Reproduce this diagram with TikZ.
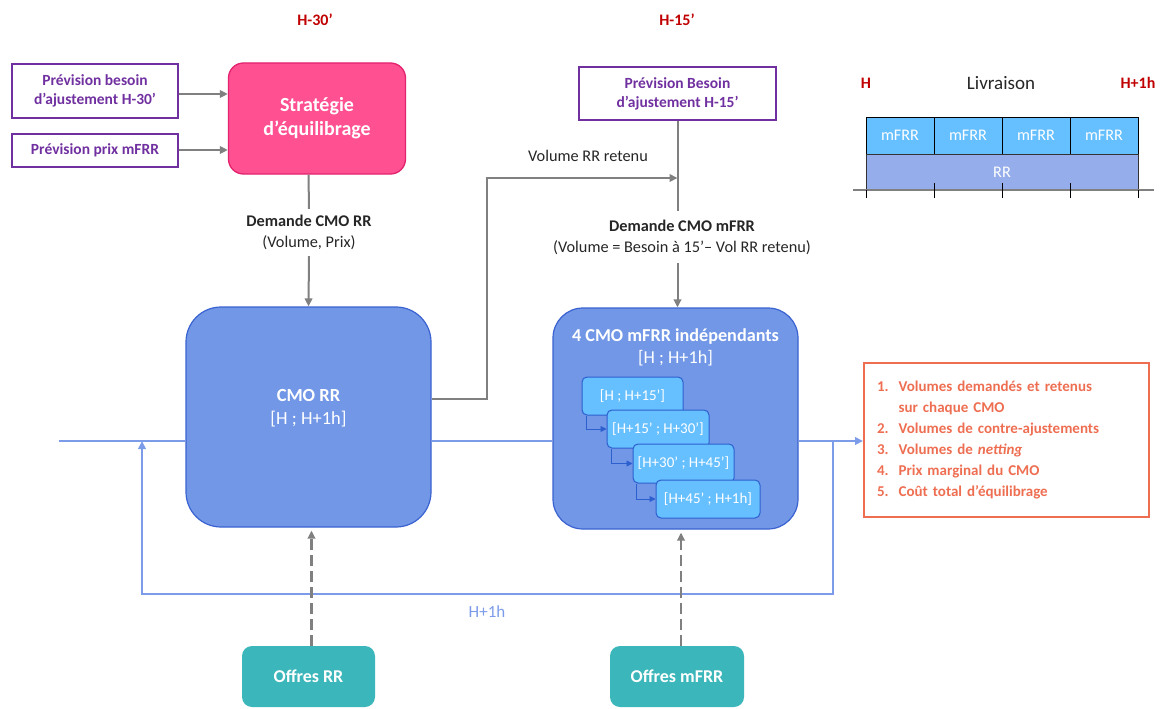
\documentclass[tikz,border=0pt]{standalone}
\usepackage{fontspec}
\setmainfont{Carlito}
\usetikzlibrary{arrows.meta,calc}
\definecolor{hred}{HTML}{C00000}
\definecolor{purp}{HTML}{7030A0}
\definecolor{pinkf}{HTML}{FF5091}
\definecolor{pinkd}{HTML}{E3236E}
\definecolor{arrg}{HTML}{808080}
\definecolor{boxb}{HTML}{7197E6}
\definecolor{boxd}{HTML}{3A62D0}
\definecolor{subf}{HTML}{66BFFF}
\definecolor{subd}{HTML}{2D5FCF}
\definecolor{flowc}{HTML}{7C9CEA}
\definecolor{tealc}{HTML}{3BB6BA}
\definecolor{coral}{HTML}{EE6E52}
\definecolor{rrf}{HTML}{95AEEB}
\tikzset{
  prev/.style={draw=purp, line width=2pt, text=purp, font=\fontsize{15.5}{19}\selectfont\bfseries, align=center, inner sep=0pt},
  gline/.style={draw=arrg, line width=2pt},
  garrow/.style={draw=arrg, line width=2pt, -{Triangle[length=8pt,width=7.5pt]}},
  lbl/.style={font=\fontsize{16.3}{21}\selectfont, align=center, text=black!85},
  cmo/.style={fill=boxb, draw=boxd, line width=1.2pt},
  subbox/.style={fill=subf, draw=subd, line width=1pt, rounded corners=5pt, text=white, font=\fontsize{15}{17}\selectfont, inner sep=0pt},
  subarrow/.style={draw=subd, line width=0.9pt, -{Triangle[length=6pt,width=6pt]}},
  offer/.style={fill=tealc, rounded corners=10pt, text=white, font=\fontsize{18}{21}\selectfont\bfseries},
  hlabel/.style={text=hred, font=\fontsize{16}{19}\selectfont\bfseries},
  flowline/.style={draw=flowc, line width=2pt},
  cellm/.style={fill=subf, draw=black, line width=0.8pt, minimum width=68, minimum height=37, text=white, font=\fontsize{16.2}{18}\selectfont, inner sep=0pt},
}
\begin{document}
\begin{tikzpicture}[x=1pt,y=-1pt]
\path[use as bounding box] (0,0) rectangle (1163,709);

% time labels
\node[hlabel] (h30) at (315,20) {H-30’};
\node[hlabel] (h15) at (677,20) {H-15’};

% inputs
\node[prev, minimum width=166, minimum height=53] (pb30) at (95,91) {Prévision besoin\\d’ajustement H-30’};
\node[prev, minimum width=166, minimum height=33] (ppm) at (95,150) {Prévision prix mFRR};
\node[fill=pinkf, draw=pinkd, line width=1.3pt, rounded corners=15pt, minimum width=177, minimum height=111, text=white, font=\fontsize{20}{24}\selectfont\bfseries, align=center] (strat) at (317,118.5) {Stratégie\\d’équilibrage};
\draw[garrow] (pb30.east |- 0,94) -- (strat.west |- 0,94);
\draw[garrow] (ppm.east) -- (ppm.east -| strat.west);

% CMO RR
\node[cmo, rounded corners=35pt, minimum width=245, minimum height=220] (cmorr) at (308.5,417) {};
\node[text=white, font=\fontsize{18.5}{23}\selectfont, align=center] (cmorrt) at (308.5,408.5) {\textbf{CMO RR}\\{[H ; H+1h]}};

\node[lbl, inner ysep=6pt] (dRR) at (309,232.5) {\textbf{Demande CMO RR}\\(Volume, Prix)};
\draw[gline] (cmorr.north |- strat.south) -- (dRR.north);
\draw[garrow] (dRR.south) -- (cmorr.north);

% mFRR part
\node[prev, minimum width=197, minimum height=53] (pb15) at (677.5,93.5) {Prévision Besoin\\d’ajustement H-15’};
\node[cmo, rounded corners=30pt, minimum width=245, minimum height=221] (cmom) at (675.5,418.5) {};
\node[text=white, font=\fontsize{18.2}{22}\selectfont, align=center] (cmomt) at (675.5,347) {\textbf{4 CMO mFRR indépendants}\\{[H ; H+1h]}};
\node[subbox, minimum width=101, minimum height=38] (s1) at (632.5,396) {[H ; H+15’]};
\node[subbox, minimum width=102, minimum height=38] (s2) at (658,429) {[H+15’ ; H+30’]};
\node[subbox, minimum width=101, minimum height=39] (s3) at (683.5,463.5) {[H+30’ ; H+45’]};
\node[subbox, minimum width=104, minimum height=38] (s4) at (708,499) {[H+45’ ; H+1h]};
\draw[subarrow] ([xshift=5pt]s1.south west) |- (s2.west);
\draw[subarrow] ([xshift=5pt]s2.south west) |- (s3.west);
\draw[subarrow] ([xshift=4pt]s3.south west) |- (s4.west);

\node[lbl, inner ysep=8pt] (dM) at (682,237) {\textbf{Demande CMO mFRR}\\(Volume = Besoin à 15’– Vol RR retenu)};
\draw[gline] (pb15.south) -- (pb15.south |- dM.north);
\draw[garrow] (pb15.south |- dM.south) -- (pb15.south |- cmom.north);

% Volume RR retenu
\coordinate (vk) at (487,178);
\coordinate (vj) at (677.5,178);
\node[lbl] (vrr) at (588,156) {Volume RR retenu};
\draw[garrow] ($(cmorr.east)+(0,-18)$) -| (vk) -- (vj);

% results
\node[draw=coral, line width=2pt, minimum width=285, minimum height=154, text width=259pt, inner xsep=13pt, inner ysep=0pt, align=left, text=coral, font=\fontsize{15}{21}\selectfont\bfseries] (res) at (1006.5,440) {%
\begin{tabular}{@{}l@{\hspace{10pt}}l@{}}
1. & Volumes demandés et retenus\\
   & sur chaque CMO\\
2. & Volumes de contre-ajustements\\
3. & Volumes de \textit{netting}\\
4. & Prix marginal du CMO\\
5. & Coût total d’équilibrage
\end{tabular}};

% flow line
\coordinate (fin) at (59,441);
\draw[flowline] (fin) -- (fin -| cmorr.west);
\draw[flowline] (fin -| cmorr.east) -- (fin -| cmom.west);
\draw[flowline, -{Triangle[length=8pt,width=7.5pt]}] (fin -| cmom.east) -- (fin -| res.west);
\coordinate (lpa) at (833,441);
\coordinate (lpb) at (142,594);
\draw[flowline, -{Triangle[length=8pt,width=7.5pt]}] (lpa) |- (lpb) -- (lpb |- fin);
\node[text=flowc, font=\fontsize{17}{19}\selectfont] (h1h) at (487,612) {H+1h};

% offers
\node[offer, minimum width=133, minimum height=61] (orr) at (308.5,676.5) {Offres RR};
\node[offer, minimum width=134, minimum height=61] (om) at (677,676.5) {Offres mFRR};
\draw[garrow, line width=2.5pt, dash pattern=on 11pt off 5pt, shorten >=3pt] ([xshift=3pt]orr.north) -- ([xshift=3pt]orr.north |- cmorr.south);
\draw[garrow, line width=2.5pt, dash pattern=on 11pt off 5pt, shorten >=3pt] ([xshift=4pt]om.north) -- ([xshift=4pt]om.north |- cmom.south);

% delivery timeline
\node[hlabel] (hh) at (866,83) {H};
\node[font=\fontsize{19}{21}\selectfont, text=black!85] (liv) at (1001,83) {Livraison};
\node[hlabel] (hh1) at (1138,83) {H+1h};
\node[cellm] (m1) at (900,135.5) {mFRR};
\node[cellm] (m2) at (968,135.5) {mFRR};
\node[cellm] (m3) at (1036,135.5) {mFRR};
\node[cellm] (m4) at (1104,135.5) {mFRR};
\node[fill=rrf, draw=black!80, line width=0.8pt, minimum width=272, minimum height=36, text=white, font=\fontsize{16.2}{18}\selectfont, inner sep=0pt] (rr) at (1002,172) {RR};
\draw[draw=arrg, line width=1.5pt] (853,190) -- (1154,190);
\foreach \x in {934,1002,1070} \draw[line width=0.9pt] (\x,183) -- (\x,198);
\foreach \x in {866,1138} \draw[line width=0.9pt] (\x,190) -- (\x,198);
\end{tikzpicture}
\end{document}
